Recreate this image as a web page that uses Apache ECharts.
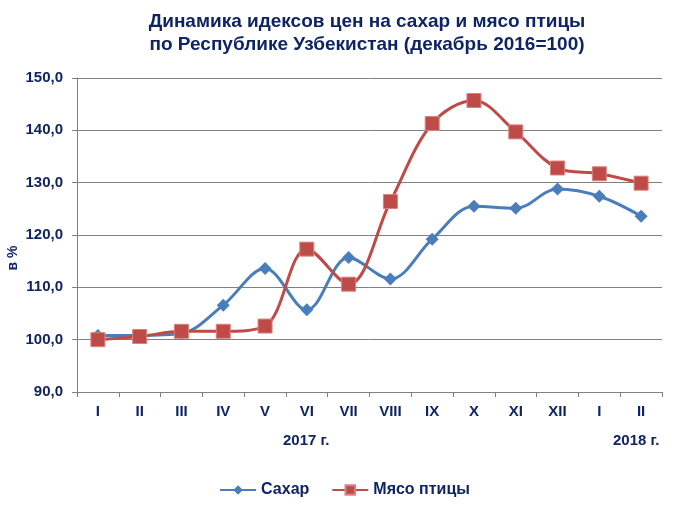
<!DOCTYPE html>
<html>
<head>
<meta charset="utf-8">
<script src="https://cdn.jsdelivr.net/npm/echarts@6/dist/echarts.min.js"></script>
<style>
  html, body { margin: 0; padding: 0; background: #fff; }
  #chart { width: 689px; height: 508px; }
</style>
</head>
<body>
<div id="chart"></div>
<script>
// months (2017 I..XII, 2018 I..II)
var months = ['I', 'II', 'III', 'IV', 'V', 'VI', 'VII', 'VIII', 'IX', 'X', 'XI', 'XII', 'I', 'II'];
var sugar = [100.8, 100.8, 101.2, 106.6, 113.6, 105.7, 115.7, 111.6, 119.2, 125.5, 125.1, 128.8, 127.4, 123.6];
var poultry = [100.0, 100.6, 101.6, 101.6, 102.6, 117.3, 110.6, 126.4, 141.3, 145.7, 139.7, 132.8, 131.7, 129.9];
var yearLabels = ['2017 г.', '2018 г.'];
var unitLabel = 'в %';

var navy = '#0f2464';
var font = 'Liberation Sans, Arial, sans-serif';

var chart = echarts.init(document.getElementById('chart'));
chart.setOption({
  animation: false,
  title: {
    text: 'Динамика идексов цен на сахар и мясо птицы\nпо Республике Узбекистан (декабрь 2016=100)',
    left: 362,
    textAlign: 'center',
    top: 5,
    textStyle: { color: navy, fontFamily: font, fontWeight: 'bold', fontSize: 19, lineHeight: 23 }
  },
  grid: { left: 77, right: 27, top: 78, bottom: 116, outerBoundsMode: 'none', containLabel: false },
  legend: {
    bottom: 5,
    left: 'center',
    itemWidth: 36,
    itemHeight: 12,
    itemGap: 22,
    textStyle: { color: navy, fontFamily: font, fontWeight: 'bold', fontSize: 16 },
    data: ['Сахар', 'Мясо птицы']
  },
  xAxis: {
    type: 'category',
    data: months,
    boundaryGap: true,
    axisLine: { lineStyle: { color: '#808080', width: 1 } },
    axisTick: { show: true, length: 5, lineStyle: { color: '#808080' } },
    axisLabel: { color: navy, fontFamily: font, fontWeight: 'bold', fontSize: 15, margin: 12 }
  },
  yAxis: {
    type: 'value',
    min: 90,
    max: 150,
    interval: 10,
    axisLine: { show: true, lineStyle: { color: '#808080', width: 1 } },
    axisTick: { show: true, length: 5, lineStyle: { color: '#808080' } },
    splitLine: { lineStyle: { color: '#808080', width: 1 } },
    axisLabel: {
      color: navy, fontFamily: font, fontWeight: 'bold', fontSize: 15, margin: 14,
      formatter: function (v) { return v.toFixed(1).replace('.', ','); }
    }
  },
  graphic: [
    { type: 'text', left: 283, top: 433, style: { text: yearLabels[0], fill: navy, font: 'bold 15px ' + font } },
    { type: 'text', left: 613, top: 433, style: { text: yearLabels[1], fill: navy, font: 'bold 15px ' + font } },
    {
      type: 'text', x: 13, y: 258, rotation: Math.PI / 2,
      style: { text: unitLabel, fill: navy, font: 'bold 14px ' + font, align: 'center', verticalAlign: 'middle' }
    }
  ],
  series: [
    {
      name: 'Сахар',
      type: 'line',
      data: sugar,
      smooth: 0.35,
      symbol: 'diamond',
      symbolSize: 13,
      lineStyle: { color: '#4a7ebb', width: 3 },
      itemStyle: { color: '#4a7ebb' },
      z: 2
    },
    {
      name: 'Мясо птицы',
      type: 'line',
      data: poultry,
      smooth: 0.35,
      symbol: 'rect',
      symbolSize: 14,
      lineStyle: { color: '#be4b48', width: 3 },
      itemStyle: { color: '#be4b48', borderColor: '#d9837f', borderWidth: 1 },
      z: 3
    }
  ]
});
</script>
</body>
</html>
